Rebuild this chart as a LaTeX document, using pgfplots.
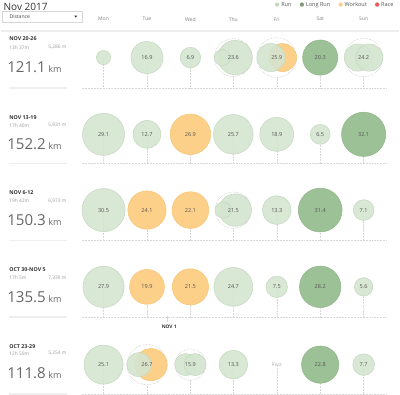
\documentclass[border=0pt]{standalone}
\usepackage{fontspec}
\setmainfont{Open Sans}
\newfontfamily\dejavu{DejaVu Sans}
\usepackage{pgfplots}
\pgfplotsset{compat=1.18}
\usepackage{pgfplotstable}
\definecolor{runc}{HTML}{D4E5D0}
\definecolor{runb}{HTML}{C3D8BE}
\definecolor{longc}{HTML}{9DC196}
\definecolor{longb}{HTML}{8FB588}
\definecolor{wkc}{HTML}{FDD089}
\definecolor{wkb}{HTML}{F6C474}
\definecolor{racec}{HTML}{F25757}
\definecolor{txt}{HTML}{555555}
\definecolor{lite}{HTML}{999999}
\definecolor{gridc}{HTML}{D6D6D6}
\definecolor{sepc}{HTML}{EEEEEE}

\pgfplotstableread{
x y d
103.5 62 3.3
146.5 62 16.9
189.5 62 6.9
233.8 62 19.3
221.2 62 4.3
269.3 62 13.0
355.4 62 12.1
366.6 62 12.1
103.5 138 29.1
146.5 138 12.7
232 138 25.7
275 138 18.9
318 138 6.5
103.5 213 30.5
233.9 213 17.2
222 213 4.3
275 213 13.3
361 213 7.1
103.5 289 27.9
232 289 24.7
275 289 7.5
361 289 5.6
103.5 366 25.1
138.6 366 9.7
184.9 366 7.95
194.1 366 7.95
232 366 13.3
361 366 7.7
}\runs

\pgfplotstableread{
x y d
318 62 20.3
361 138 32.1
318 213 31.4
318 289 28.2
318 366 22.8
}\longruns

\pgfplotstableread{
x y d
189.5 138 26.9
146.5 213 24.1
189.5 213 22.1
146.5 289 19.9
189.5 289 21.5
280.7 62 12.9
150.5 366 17.0
}\workouts

\pgfplotstableread{
x y d
232 62 23.6
275 62 25.9
361 62 24.2
232 213 21.5
146.5 366 26.7
189.5 366 15.9
}\outers

\pgfplotstableread{
x y l
146.5 62 16.9
189.5 62 6.9
232 62 23.6
275 62 25.9
318 62 20.3
361 62 24.2
103.5 138 29.1
146.5 138 12.7
189.5 138 26.9
232 138 25.7
275 138 18.9
318 138 6.5
361 138 32.1
103.5 213 30.5
146.5 213 24.1
189.5 213 22.1
232 213 21.5
275 213 13.3
318 213 31.4
361 213 7.1
103.5 289 27.9
146.5 289 19.9
189.5 289 21.5
232 289 24.7
275 289 7.5
318 289 28.2
361 289 5.6
103.5 366 25.1
146.5 366 26.7
189.5 366 15.9
232 366 13.3
318 366 22.8
361 366 7.7
}\labels

\pgfplotsset{
  bubble/.style={only marks, mark=*, forget plot,
    visualization depends on={3.88*sqrt(\thisrow{d}) \as \rad},
    scatter, point meta=\thisrow{d},
    scatter/@pre marker code/.style={/tikz/mark size=\rad},
    scatter/@post marker code/.style={}},
}

\begin{document}
\begin{tikzpicture}
\begin{scope}[x=1bp, y=-1bp, shift={(0,-400)}]
\draw[gridc, line width=0.5bp] (3,16) rectangle (82,27);
\fill[black!80] (74.5,20.5) -- (77.5,20.5) -- (76,22.5) -- cycle;
\draw[sepc, line width=2bp] (2,35.5) -- (396,35.5);
\foreach \cy/\by in {62/92,138/167,213/243,289/319,366/395}{
  \foreach \xx in {103.5,146.5,189.5,232,275,318,361}{
    \draw[gridc, densely dotted, line width=0.5bp] (\xx,\cy) -- (\xx,\by);
  }
  \draw[gridc, densely dotted, line width=0.5bp] (82,\by) -- (384,\by);
  \draw[sepc, line width=1.5bp] (10,\by) -- (67,\by);
}
\draw[gridc, line width=0.5bp] (167,318) -- (167,324);
\end{scope}

\begin{axis}[width=396bp, height=400bp, scale only axis,
  xmin=0, xmax=396, ymin=0, ymax=400, y dir=reverse,
  axis lines=none, ticks=none, clip=false]

\addplot[bubble, mark options={draw=black!25, fill=white, line width=0.5bp, densely dotted}] table {\outers};
\addplot[bubble, mark options={draw=wkb, fill=wkc, line width=0.5bp}] table {\workouts};
\addplot[bubble, mark options={draw=runb, fill=runc, fill opacity=0.9, line width=0.5bp}] table {\runs};
\addplot[bubble, mark options={draw=longb, fill=longc, line width=0.5bp}] table {\longruns};

\addplot[only marks, mark=none, forget plot, nodes near coords, point meta=explicit symbolic,
  every node near coord/.append style={anchor=center, text=txt, font=\fontsize{5.5}{6}\selectfont}]
  table[meta=l] {\labels};
\end{axis}

\begin{scope}[x=1bp, y=-1bp, shift={(0,-400)}]
\node[anchor=west, text=black!80, font=\fontsize{10}{12}\selectfont] at (1,12) {Nov 2017};
\node[anchor=west, text=black!75, font=\fontsize{5}{6}\selectfont] at (7,21.5) {Distance};
\node[anchor=west, inner sep=0pt, text=txt, font=\fontsize{5.5}{6}\selectfont] at (273,10)
  {{\dejavu\fontsize{5.5}{6}\selectfont\textcolor{runb}{●}}\hspace{1.5bp}Run\hspace{8bp}%
   {\dejavu\fontsize{5.5}{6}\selectfont\textcolor{longc!80!black}{●}}\hspace{1.5bp}Long Run\hspace{8bp}%
   {\dejavu\fontsize{5.5}{6}\selectfont\textcolor{wkc}{●}}\hspace{1.5bp}Workout\hspace{8bp}%
   {\dejavu\fontsize{5.5}{6}\selectfont\textcolor{racec}{●}}\hspace{1.5bp}Race};
\foreach \xx/\dd in {103.5/Mon,146.5/Tue,189.5/Wed,232/Thu,275/Fri,318/Sat,361/Sun}{
  \node[text=black!50, font=\fontsize{5}{6}\selectfont] at (\xx,24) {\dd};
}
\node[text=black!80, font=\fontsize{4.8}{6}\selectfont\bfseries] at (168.5,328.5) {NOV 1};
\node[text=black!30, font=\fontsize{5}{6}\selectfont] at (275,366) {Rest};
\foreach \ya/\yb/\yc/\wk/\tm/\mm/\km in {
   43/52/77/{NOV 20-26}/{13h 37m}/{5,286 m}/121.1,
   121/129/153/{NOV 13-19}/{17h 40m}/{5,831 m}/152.2,
   196/204/228/{NOV 6-12}/{19h 42m}/{6,973 m}/150.3,
   272/280/304/{OCT 30-NOV 5}/{17h 5m}/{7,339 m}/135.5,
   348/355/380/{OCT 23-29}/{12h 50m}/{5,254 m}/111.8}{
  \node[anchor=west, inner sep=0pt, text=black!80, font=\fontsize{5.3}{6}\selectfont\bfseries] at (10,\ya) {\wk};
  \node[anchor=west, inner sep=0pt, text=lite, font=\fontsize{4.8}{6}\selectfont] at (10,\yb) {\tm};
  \node[anchor=east, inner sep=0pt, text=lite, font=\fontsize{4.8}{6}\selectfont] at (67,\yb) {\mm};
  \node[anchor=base west, inner sep=0pt, text=black!60] at (8,\yc) {\fontsize{15}{16}\selectfont\km\,\fontsize{9}{10}\selectfont km};
}
\end{scope}
\end{tikzpicture}
\end{document}
